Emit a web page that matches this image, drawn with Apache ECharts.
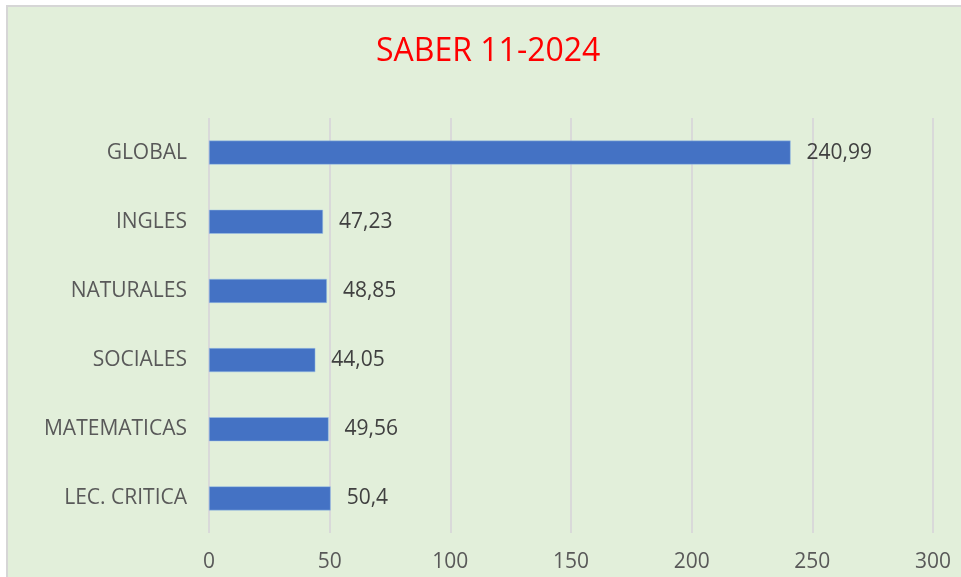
<!DOCTYPE html>
<html><head><meta charset="utf-8">
<script src="https://cdn.jsdelivr.net/npm/echarts@6/dist/echarts.min.js"></script>
<style>
html,body{margin:0;padding:0;background:#fff;}
#frame{position:absolute;left:6px;top:5px;width:960px;height:580px;background:#E2EFDA;border:2px solid #D6D6D6;box-sizing:border-box;}
#c{position:absolute;left:0;top:0;width:961px;height:577px;}
</style></head>
<body>
<div id="frame"></div>
<div id="c"></div>
<script>
const categories = ["LEC. CRITICA","MATEMATICAS","SOCIALES","NATURALES","INGLES","GLOBAL"];
const values = [50.4, 49.56, 44.05, 48.85, 47.23, 240.99];
const title = "SABER 11-2024";
const font = "'Open Sans', 'Liberation Sans', sans-serif";
const chart = echarts.init(document.getElementById('c'));
chart.setOption({
  backgroundColor: 'transparent',
  title: {text: title, left: 376, top: 36, padding:0,
    textStyle:{color:'#FF0000', fontSize:32, fontWeight:'normal', fontFamily:font}},
  grid: {left: 209, right: 28, top: 118, bottom: 44, containLabel:false},
  xAxis: {type:'value', min:0, max:300, interval:50,
    axisLine:{show:false}, axisTick:{show:false},
    axisLabel:{color:'#595959', fontSize:21, fontFamily:font, margin:19},
    splitLine:{lineStyle:{color:'#D9D9D9', width:2}}},
  yAxis: {type:'category', data:categories,
    axisLine:{show:false}, axisTick:{show:false},
    axisLabel:{color:'#595959', fontSize:21, fontFamily:font, margin:22}},
  series: [{type:'bar', data:values, barWidth:24,
    itemStyle:{color:'#4472C4', borderColor:'#9DC3E6', borderWidth:0.5},
    label:{show:true, position:'right', distance:16, color:'#404040', fontSize:21, fontFamily:font,
      formatter: p => String(p.value).replace('.', ',')}}]
});
</script>
</body></html>
